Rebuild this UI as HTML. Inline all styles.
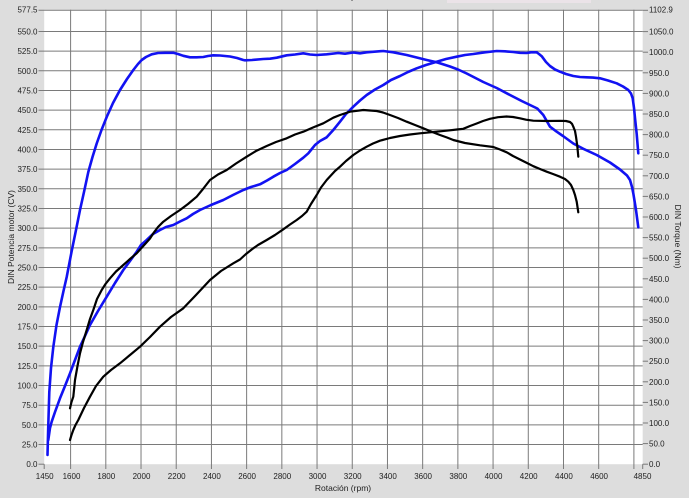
<!DOCTYPE html>
<html>
<head>
<meta charset="utf-8">
<style>
  html, body { margin: 0; padding: 0; background: #dddddd; }
  body { width: 689px; height: 502px; overflow: hidden; }
  svg { display: block; }
  text { font-family: "Liberation Sans", Arial, sans-serif; fill: #222; }
</style>
</head>
<body>
<svg width="689" height="502" viewBox="0 0 689 502" xmlns="http://www.w3.org/2000/svg">
  <rect x="0" y="0" width="689" height="502" fill="#dddddd"/>
  <rect x="447" y="0" width="144" height="3" fill="#ebe3e8"/>
  <rect x="0" y="498" width="689" height="4" fill="#ffffff"/>
  <text x="351" y="-1" font-size="9">p</text>

  <!-- plot area -->
  <rect x="44.2" y="9.8" width="598.5" height="454.4" fill="#ffffff"/>

  <!-- gridlines -->
  <g stroke="#7a7a7a" stroke-width="1" fill="none">
    <!-- horizontal (left axis every 25) with ticks -->
    <line x1="38.5" y1="444.53" x2="642.7" y2="444.53"/>
    <line x1="38.5" y1="424.86" x2="642.7" y2="424.86"/>
    <line x1="38.5" y1="405.19" x2="642.7" y2="405.19"/>
    <line x1="38.5" y1="385.52" x2="642.7" y2="385.52"/>
    <line x1="38.5" y1="365.85" x2="642.7" y2="365.85"/>
    <line x1="38.5" y1="346.17" x2="642.7" y2="346.17"/>
    <line x1="38.5" y1="326.50" x2="642.7" y2="326.50"/>
    <line x1="38.5" y1="306.83" x2="642.7" y2="306.83"/>
    <line x1="38.5" y1="287.16" x2="642.7" y2="287.16"/>
    <line x1="38.5" y1="267.49" x2="642.7" y2="267.49"/>
    <line x1="38.5" y1="247.82" x2="642.7" y2="247.82"/>
    <line x1="38.5" y1="228.15" x2="642.7" y2="228.15"/>
    <line x1="38.5" y1="208.48" x2="642.7" y2="208.48"/>
    <line x1="38.5" y1="188.81" x2="642.7" y2="188.81"/>
    <line x1="38.5" y1="169.14" x2="642.7" y2="169.14"/>
    <line x1="38.5" y1="149.46" x2="642.7" y2="149.46"/>
    <line x1="38.5" y1="129.79" x2="642.7" y2="129.79"/>
    <line x1="38.5" y1="110.12" x2="642.7" y2="110.12"/>
    <line x1="38.5" y1="90.45" x2="642.7" y2="90.45"/>
    <line x1="38.5" y1="70.78" x2="642.7" y2="70.78"/>
    <line x1="38.5" y1="51.11" x2="642.7" y2="51.11"/>
    <line x1="38.5" y1="31.44" x2="642.7" y2="31.44"/>
    <line x1="38.5" y1="10.3" x2="642.7" y2="10.3"/>
    <line x1="38.5" y1="464.2" x2="44.2" y2="464.2"/>
    <!-- vertical -->
    <line x1="70.60" y1="9.8" x2="70.60" y2="469"/>
    <line x1="105.81" y1="9.8" x2="105.81" y2="469"/>
    <line x1="141.02" y1="9.8" x2="141.02" y2="469"/>
    <line x1="176.22" y1="9.8" x2="176.22" y2="469"/>
    <line x1="211.43" y1="9.8" x2="211.43" y2="469"/>
    <line x1="246.63" y1="9.8" x2="246.63" y2="469"/>
    <line x1="281.84" y1="9.8" x2="281.84" y2="469"/>
    <line x1="317.04" y1="9.8" x2="317.04" y2="469"/>
    <line x1="352.25" y1="9.8" x2="352.25" y2="469"/>
    <line x1="387.46" y1="9.8" x2="387.46" y2="469"/>
    <line x1="422.66" y1="9.8" x2="422.66" y2="469"/>
    <line x1="457.87" y1="9.8" x2="457.87" y2="469"/>
    <line x1="493.07" y1="9.8" x2="493.07" y2="469"/>
    <line x1="528.28" y1="9.8" x2="528.28" y2="469"/>
    <line x1="563.49" y1="9.8" x2="563.49" y2="469"/>
    <line x1="598.69" y1="9.8" x2="598.69" y2="469"/>
    <line x1="633.90" y1="9.8" x2="633.90" y2="469"/>
    <line x1="44.2" y1="464.2" x2="44.2" y2="469"/>
    <line x1="642.7" y1="464.2" x2="642.7" y2="469"/>
    <!-- right ticks -->
    <line x1="642.7" y1="464.2" x2="648" y2="464.2"/>
    <line x1="642.7" y1="443.6" x2="648" y2="443.6"/>
    <line x1="642.7" y1="423.0" x2="648" y2="423.0"/>
    <line x1="642.7" y1="402.4" x2="648" y2="402.4"/>
    <line x1="642.7" y1="381.8" x2="648" y2="381.8"/>
    <line x1="642.7" y1="361.2" x2="648" y2="361.2"/>
    <line x1="642.7" y1="340.6" x2="648" y2="340.6"/>
    <line x1="642.7" y1="320.0" x2="648" y2="320.0"/>
    <line x1="642.7" y1="299.4" x2="648" y2="299.4"/>
    <line x1="642.7" y1="278.8" x2="648" y2="278.8"/>
    <line x1="642.7" y1="258.2" x2="648" y2="258.2"/>
    <line x1="642.7" y1="237.6" x2="648" y2="237.6"/>
    <line x1="642.7" y1="217.0" x2="648" y2="217.0"/>
    <line x1="642.7" y1="196.4" x2="648" y2="196.4"/>
    <line x1="642.7" y1="175.8" x2="648" y2="175.8"/>
    <line x1="642.7" y1="155.2" x2="648" y2="155.2"/>
    <line x1="642.7" y1="134.6" x2="648" y2="134.6"/>
    <line x1="642.7" y1="114.0" x2="648" y2="114.0"/>
    <line x1="642.7" y1="93.4" x2="648" y2="93.4"/>
    <line x1="642.7" y1="72.8" x2="648" y2="72.8"/>
    <line x1="642.7" y1="52.2" x2="648" y2="52.2"/>
    <line x1="642.7" y1="31.6" x2="648" y2="31.6"/>
    <line x1="642.7" y1="10.3" x2="648" y2="10.3"/>
  </g>

  <!-- left tick labels -->
  <g font-size="8" text-anchor="end">
    <text x="37.5" y="467.2">0.0</text>
    <text x="37.5" y="447.5">25.0</text>
    <text x="37.5" y="427.9">50.0</text>
    <text x="37.5" y="408.2">75.0</text>
    <text x="37.5" y="388.5">100.0</text>
    <text x="37.5" y="368.9">125.0</text>
    <text x="37.5" y="349.2">150.0</text>
    <text x="37.5" y="329.5">175.0</text>
    <text x="37.5" y="309.8">200.0</text>
    <text x="37.5" y="290.2">225.0</text>
    <text x="37.5" y="270.5">250.0</text>
    <text x="37.5" y="250.8">275.0</text>
    <text x="37.5" y="231.2">300.0</text>
    <text x="37.5" y="211.5">325.0</text>
    <text x="37.5" y="191.8">350.0</text>
    <text x="37.5" y="172.1">375.0</text>
    <text x="37.5" y="152.5">400.0</text>
    <text x="37.5" y="132.8">425.0</text>
    <text x="37.5" y="113.1">450.0</text>
    <text x="37.5" y="93.5">475.0</text>
    <text x="37.5" y="73.8">500.0</text>
    <text x="37.5" y="54.1">525.0</text>
    <text x="37.5" y="34.4">550.0</text>
    <text x="37.5" y="12.6">577.5</text>
  </g>

  <!-- right tick labels -->
  <g font-size="8" text-anchor="start">
    <text x="649" y="467.2">0.0</text>
    <text x="649" y="446.6">50.0</text>
    <text x="649" y="426.0">100.0</text>
    <text x="649" y="405.4">150.0</text>
    <text x="649" y="384.8">200.0</text>
    <text x="649" y="364.2">250.0</text>
    <text x="649" y="343.6">300.0</text>
    <text x="649" y="323.0">350.0</text>
    <text x="649" y="302.4">400.0</text>
    <text x="649" y="281.8">450.0</text>
    <text x="649" y="261.2">500.0</text>
    <text x="649" y="240.6">550.0</text>
    <text x="649" y="220.0">600.0</text>
    <text x="649" y="199.4">650.0</text>
    <text x="649" y="178.8">700.0</text>
    <text x="649" y="158.2">750.0</text>
    <text x="649" y="137.6">800.0</text>
    <text x="649" y="117.0">850.0</text>
    <text x="649" y="96.4">900.0</text>
    <text x="649" y="75.8">950.0</text>
    <text x="649" y="55.2">1000.0</text>
    <text x="649" y="34.6">1050.0</text>
    <text x="649" y="12.6">1102.9</text>
  </g>

  <!-- x tick labels -->
  <g font-size="8" text-anchor="middle">
    <text x="44.7" y="479">1450</text>
    <text x="71.5" y="479">1600</text>
    <text x="106.3" y="479">1800</text>
    <text x="141.5" y="479">2000</text>
    <text x="176.7" y="479">2200</text>
    <text x="211.9" y="479">2400</text>
    <text x="247.1" y="479">2600</text>
    <text x="282.3" y="479">2800</text>
    <text x="317.5" y="479">3000</text>
    <text x="352.7" y="479">3200</text>
    <text x="387.9" y="479">3400</text>
    <text x="423.1" y="479">3600</text>
    <text x="458.3" y="479">3800</text>
    <text x="493.5" y="479">4000</text>
    <text x="528.7" y="479">4200</text>
    <text x="563.9" y="479">4400</text>
    <text x="599.1" y="479">4600</text>
    <text x="642.5" y="479">4850</text>
  </g>

  <!-- axis titles -->
  <text x="343" y="491" font-size="8.5" text-anchor="middle">Rotación (rpm)</text>
  <text transform="translate(14,237) rotate(-90)" font-size="8.5" text-anchor="middle">DIN Potencia motor (CV)</text>
  <text transform="translate(675,236.5) rotate(90)" font-size="8.5" text-anchor="middle">DIN Torque (Nm)</text>

  <!-- curves -->
  <g fill="none" stroke-linejoin="round" stroke-linecap="round">
    <!-- Blue A (torque) -->
    <polyline stroke="#1212f2" stroke-width="2.6" points="47.5,455 48.2,428 49.3,392 51,368 53.3,347 56.5,325 60,307 63.5,291 66.7,277 71.7,251 76,230 80,210 84,192 88.3,172 92.5,157 96.7,143.5 101.5,130 106.7,117 113,103 120,90 127,79 133.3,70 138,64 141.7,60 146,57 151.7,54.3 158,53 165,52.8 173.3,52.8 178,54 183.3,55.8 190,57.3 196.7,57.3 203.3,57 208,56 213.3,55.3 220,55.5 230,56.5 237,58 243.3,60 245,60.3 252,60 263.3,59 270,58.7 276.7,57.7 286.7,55.3 295,54.5 303.3,53.3 310,54.5 316.7,55 326.7,54.3 338.3,53 345,53.7 353.3,52.5 360,53.3 366.7,52.3 383.3,51 393.3,52.3 406.7,55 426.7,60 436.7,62.3 450,66.5 458,69.5 466.7,73.5 483.3,82 496.7,88 510,95 521.7,101 530,105 537.3,108.5 543.3,115 550,126.7 556.7,131.7 563,136 573.3,143.5 583.3,148.8 596.7,155 610,162.5 620,169.5 627,175.5 630,180 632,187 633.3,193.3 636,210 638.3,227.3"/>
    <!-- Blue B (power) -->
    <polyline stroke="#1212f2" stroke-width="2.6" points="48.3,440 50,428 51.7,421.7 55,412 60,398.3 65,386 70,373.3 75,360 80,346.7 85,336 90,325 98,311 106.7,296.7 115,283 123.3,270 130,261 136.7,251.7 141,245 146.7,240 153,234 160,230 166,227 173.3,225 180,221.5 186.7,218.3 193,214 200,210 211,205 223.3,200 233,195 243.3,190 251,187 260,184.3 267,180.5 273.3,176.7 280,173 286.7,170 295,164 303.3,157.7 308.3,153.3 311,150 315,145 320,141 326.7,137.3 333.3,130 340,121.7 346,114 353.3,106.7 360,100.5 366.7,95 375,89.5 383.3,85 391,80 400,76 408,72 416.7,68.3 426,65 436.7,61.7 446,59 456.7,56.7 465,55 473.3,54 485,52.3 496.7,51 505,51.3 513.3,52 520,52.8 526.7,53 531,52.3 536.7,52.3 539,54 541.7,56.2 546,62 550,66 555,69.5 560,71.7 566,74 573.3,76 580,77 586.7,77.3 593,77.6 600,78.3 608,80.5 616.7,83.3 623,86.5 628.3,90 631,93.5 632.7,98.3 634,108 635,118 636.7,134 638.3,153.3"/>
    <!-- Black C -->
    <polyline stroke="#000000" stroke-width="2.2" points="70,408.3 71.5,402 73.3,396.7 74.2,388 75,380 77.5,366 80,353.3 83,342 86.7,330 90,319 93.3,310 97,299 101.7,290 105.5,284 110,278.3 116,271.5 123.3,265 130,259 136.7,253.3 141,248.5 146,243 150,238.5 153.3,233.3 158,227 163.3,221.7 171,216 180,210 188,204 196.7,196.7 203,189 210,180 218,174.5 226.7,170 236,163.5 246.7,156.7 256,151 266.7,146 276,142 286.7,138.3 295,134.5 303.3,131.7 313,127.5 323.3,123.3 333.3,117.7 340,115 350,111.7 363.3,110 376.7,111 383,112.5 390,115 398,118 406.7,121.7 415,125 423.3,128.3 431,131.5 440,135 447,137.5 453.3,140 465,143 480,145.3 493.3,147 500,149.5 506.7,152.3 513,156 520,159.5 527,163 533.3,166.2 540,169 546.7,171.7 553,174 560,176.7 565,179 568.3,181.7 571,185 573.3,190 575,195 576.7,201.7 578.3,212.3"/>
    <!-- Black D -->
    <polyline stroke="#000000" stroke-width="2.2" points="70,440 71.5,435 73.3,430 75.5,425 78.3,420 84,408 90,396.7 96,386 103.3,376.7 111,370 120,363.3 130,355 140,346.7 150,337 160,326.7 171,317 183.3,308.3 196,295 210,280 221,271 233.3,263.3 240,259.5 246,254 253.3,248.3 258,245 266.7,240 275,235 283.3,229.3 290,224.5 296.7,220 302,216 306.7,211.7 311,204 316.7,195 321,187.5 326.7,180 335,171 340,166.7 346,161 353.3,155 360,150.5 366.7,146.7 373,143.5 380,140.7 390,138 400,136 410,134.5 420,133.3 436.7,131.7 450,130.3 457,129.5 463.3,128.8 470,126 476.7,123.5 483,121 490,118.8 498,117.2 506.7,116.5 513,117 520,118.3 526,119.7 533.3,120.7 546.7,121 560,120.8 566,121 570,122 572,123.8 573.3,126.7 575,131 576,136.7 577.3,146 578.3,156.7"/>
  </g>
</svg>
</body>
</html>
